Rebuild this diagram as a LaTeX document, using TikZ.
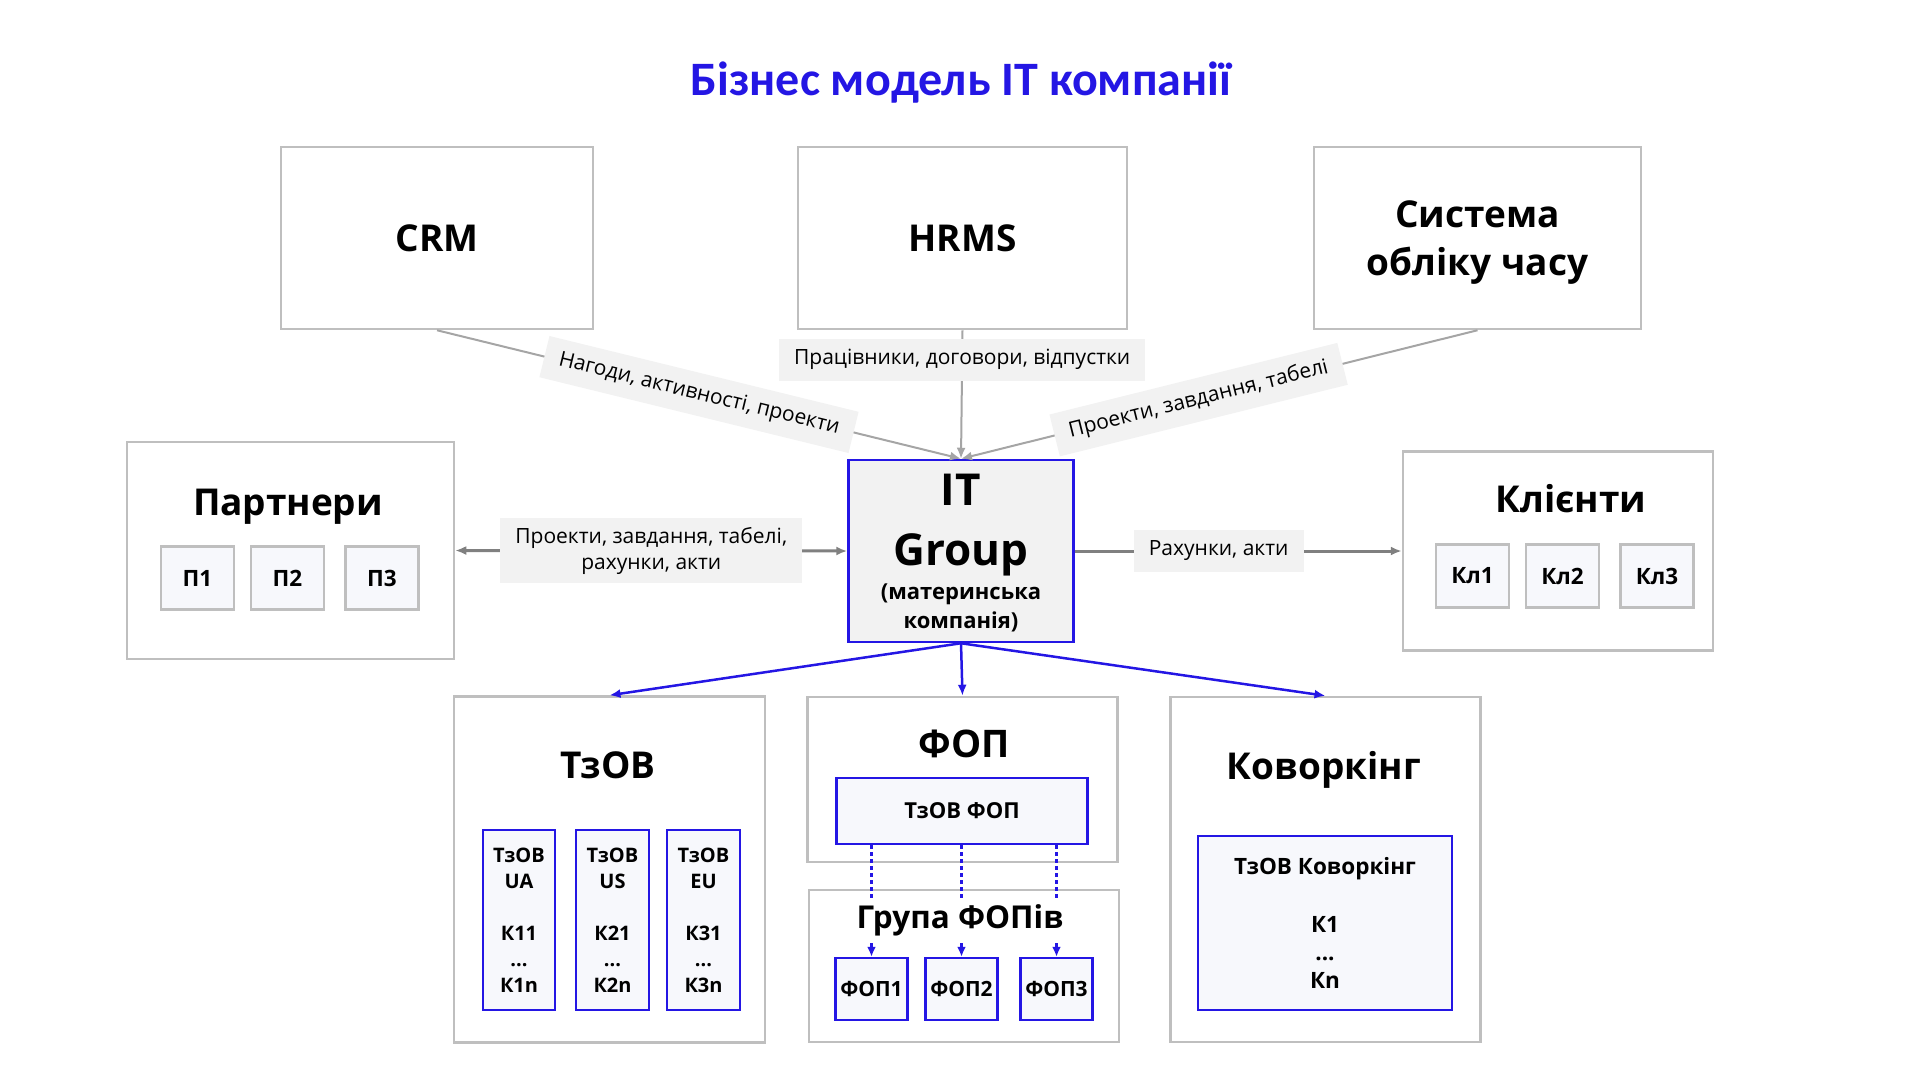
\documentclass[tikz,border=0pt]{standalone}
\usepackage{fontspec}
\setmainfont{Open Sans}
\newfontfamily\titlefont{Carlito}
\usetikzlibrary{arrows.meta}
\definecolor{itblue}{RGB}{36,22,228}
\definecolor{boxgray}{RGB}{191,191,191}
\definecolor{lblgray}{RGB}{242,242,242}
\definecolor{subfill}{RGB}{247,248,252}
\definecolor{arrgray}{RGB}{128,128,128}
\definecolor{linegray}{RGB}{165,165,165}

\begin{document}
\begin{tikzpicture}[x=1pt,y=-1pt,>={Latex[length=11pt,width=9pt]}]
    \tikzstyle{outer} = [rectangle, draw=boxgray, line width=2.5pt, fill=white, align=center, font=\bfseries\fontsize{37}{48}\selectfont]
    \tikzstyle{sub} = [rectangle, draw=boxgray, line width=2.5pt, fill=subfill, inner sep=0pt, minimum width=73pt, minimum height=63pt, font=\bfseries\fontsize{22.5}{26}\selectfont]
    \tikzstyle{bluebox} = [rectangle, draw=itblue, line width=2.5pt, fill=subfill, inner sep=0pt, align=center, font=\bfseries\fontsize{20}{26}\selectfont]
    \tikzstyle{head} = [anchor=base, font=\bfseries\fontsize{37}{48}\selectfont]
    \tikzstyle{lbl} = [fill=lblgray, inner xsep=15pt, inner ysep=11pt, align=center, font=\fontsize{21}{26}\selectfont]
    \tikzstyle{grayline} = [->, draw=linegray, line width=2pt]
    \tikzstyle{sideline} = [draw=arrgray, line width=3pt]
    \tikzstyle{blueline} = [->, draw=itblue, line width=2.5pt]
    \tikzstyle{dotline} = [->, draw=itblue, line width=2.5pt, dash pattern=on 3.5pt off 3.5pt, >={Latex[length=10pt,width=9pt]}]
    \useasboundingbox (0,0) rectangle (1920,1080);

    \node (title) [anchor=base, text=itblue, font=\titlefont\bfseries\fontsize{48}{54}\selectfont] at (961,95) {Бізнес модель IT компанії};

    \node (crm) [outer, minimum width=312pt, minimum height=182pt] at (437,238) {CRM};
    \node (hrms) [outer, minimum width=329pt, minimum height=182pt] at (962.5,238) {HRMS};
    \node (timesys) [outer, minimum width=327pt, minimum height=182pt, text depth=0pt] at (1477.5,238) {Система\\обліку часу};

    \node (itgroup) [rectangle, draw=itblue, line width=2.5pt, fill=lblgray, minimum width=225pt, minimum height=182pt, inner sep=0pt, text depth=0pt, align=center, font=\bfseries\fontsize{44}{56}\selectfont] at (961,551) {IT\\[4pt]Group\\[-22pt]{\fontsize{22}{56}\selectfont (материнська}\\[-27pt]{\fontsize{22}{56}\selectfont компанія)}};

    \node (partners) [outer, minimum width=327pt, minimum height=217pt] at (290.5,550.5) {};
    \node (partnerstitle) [head] at (288,515) {Партнери};
    \node (p1) [sub] at (197.5,578) {П1};
    \node (p2) [sub] at (287.5,578) {П2};
    \node (p3) [sub] at (382,578) {П3};

    \node (clients) [outer, minimum width=310pt, minimum height=199pt] at (1558,551) {};
    \node (clientstitle) [head] at (1571,512) {Клієнти};
    \node (kl1) [sub] at (1472.5,576) {Кл1};
    \node (kl2) [sub] at (1562.5,576) {Кл2};
    \node (kl3) [sub] at (1657,576) {Кл3};

    \node (tov) [outer, minimum width=311pt, minimum height=346pt] at (609.5,869.5) {};
    \node (tovtitle) [head] at (608,778) {ТзОВ};
    \node (tovua) [bluebox, minimum width=72pt, minimum height=180pt] at (519,920) {ТзОВ\\UA\\[26pt]К11\\...\\К1n};
    \node (tovus) [bluebox, minimum width=73pt, minimum height=180pt] at (612.5,920) {ТзОВ\\US\\[26pt]К21\\...\\К2n};
    \node (toveu) [bluebox, minimum width=73pt, minimum height=180pt] at (703.5,920) {ТзОВ\\EU\\[26pt]К31\\...\\К3n};

    \node (fop) [outer, minimum width=310pt, minimum height=165pt] at (962.5,779.5) {};
    \node (foptitle) [head, font=\bfseries\fontsize{38}{48}\selectfont] at (964,757) {ФОП};
    \node (tovfop) [bluebox, minimum width=251pt, minimum height=66pt, font=\bfseries\fontsize{22}{26}\selectfont] at (962,811) {ТзОВ ФОП};

    \node (fopgroup) [outer, minimum width=310pt, minimum height=152pt] at (964,966) {};
    \node (fop1) [bluebox, minimum width=72pt, minimum height=62pt, font=\bfseries\fontsize{21}{26}\selectfont] at (871.5,989) {ФОП1};
    \node (fop2) [bluebox, minimum width=72pt, minimum height=62pt, font=\bfseries\fontsize{21}{26}\selectfont] at (961.5,989) {ФОП2};
    \node (fop3) [bluebox, minimum width=72pt, minimum height=62pt, font=\bfseries\fontsize{21}{26}\selectfont] at (1056.5,989) {ФОП3};
    \draw[dotline] (tovfop.south -| fop1.north) -- (fop1.north);
    \draw[dotline] (tovfop.south -| fop2.north) -- (fop2.north);
    \draw[dotline] (tovfop.south -| fop3.north) -- (fop3.north);
    \node (fopgrouptitle) [head, fill=white, inner ysep=6pt, font=\bfseries\fontsize{31.5}{36}\selectfont] at (960,928) {Група ФОПів};

    \node (cowork) [outer, minimum width=310pt, minimum height=345pt] at (1325.5,869.5) {};
    \node (coworktitle) [head] at (1324,779) {Коворкінг};
    \node (tovcowork) [bluebox, minimum width=254pt, minimum height=174pt, font=\bfseries\fontsize{22.5}{28}\selectfont] at (1325,923) {ТзОВ Коворкінг\\[30pt]К1\\...\\Кn};

    \draw[grayline] (crm.south) -- node[lbl, sloped] (lblcrm) {Нагоди, активності, проекти} (itgroup.north);
    \draw[grayline] (hrms.south) -- node[lbl, pos=0.23] (lblhrms) {Працівники, договори, відпустки} (itgroup.north);
    \draw[grayline] (timesys.south) -- node[lbl, sloped, pos=0.54] (lbltime) {Проекти, завдання, табелі} (itgroup.north);

    \draw[sideline, <->] (itgroup.west) -- node[lbl, inner ysep=9pt] (lblpartners) {Проекти, завдання, табелі,\\рахунки, акти} (partners.east);
    \draw[sideline, ->] (itgroup.east) -- node[lbl, pos=0.44] (lblclients) {Рахунки, акти} (clients.west);

    \draw[blueline] (itgroup.south) -- (tov.north);
    \draw[blueline] (itgroup.south) -- (fop.north);
    \draw[blueline] (itgroup.south) -- (cowork.north);
\end{tikzpicture}
\end{document}
